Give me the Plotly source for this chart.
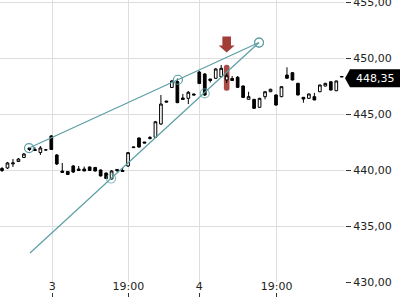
import plotly.graph_objects as go

# ---- data (index-based time axis, prices in EUR) ----
opens  = [440.13, 440.18, 440.54, 440.76, 441.12, 441.97, 441.83, 441.56, 441.79, 443.04,
          441.34, 439.91, 439.87, 440.36, 440.09, 440.09, 440.27, 440.23, 440.00, 439.73,
          439.20, 440.05, 439.96, 440.36, 442.00, 442.86, 442.50, 442.81, 442.92, 444.11,
          446.16, 447.37, 447.90, 446.43, 446.40, 446.79, 448.75, 448.57, 448.13, 448.19,
          448.33, 448.04, 448.17, 448.28, 447.50, 446.31, 446.31, 445.60, 446.55, 446.99,
          446.70, 446.55, 448.48, 448.69, 447.74, 446.49, 446.40, 446.55, 446.99, 447.50,
          447.88, 447.08, 448.30]
highs  = [440.27, 440.72, 440.98, 441.07, 441.52, 442.00, 442.05, 442.14, 441.80, 443.13,
          441.43, 440.63, 439.91, 440.45, 440.36, 440.31, 440.31, 440.27, 440.05, 439.78,
          440.00, 440.05, 440.18, 441.61, 442.08, 442.90, 442.50, 443.04, 444.38, 446.70,
          446.16, 448.04, 448.17, 446.79, 447.05, 446.79, 448.84, 448.66, 448.13, 449.11,
          449.38, 448.75, 448.39, 448.39, 447.55, 446.99, 446.34, 446.45, 447.03, 447.25,
          446.75, 447.48, 449.17, 448.73, 447.78, 446.49, 446.83, 446.88, 447.63, 447.78,
          447.92, 447.99, 448.37]
lows   = [439.82, 440.09, 440.27, 440.72, 441.07, 441.70, 441.74, 441.34, 441.78, 441.79,
          440.45, 439.78, 439.55, 439.73, 439.96, 439.91, 439.93, 439.87, 439.42, 439.20,
          439.15, 439.82, 439.87, 440.27, 441.97, 442.00, 442.41, 442.73, 442.86, 444.02,
          446.07, 447.32, 445.98, 446.30, 445.89, 446.70, 447.68, 446.61, 447.81, 448.13,
          448.28, 447.77, 447.99, 447.32, 446.43, 446.31, 445.47, 445.56, 446.31, 446.96,
          445.76, 446.50, 448.17, 448.00, 446.66, 446.01, 446.36, 446.25, 446.95, 447.46,
          447.10, 447.04, 448.30]
closes = [439.96, 440.63, 440.63, 440.98, 441.43, 441.83, 441.74, 441.97, 441.80, 441.83,
          440.54, 439.78, 439.60, 439.82, 439.96, 439.91, 439.96, 439.91, 439.47, 439.24,
          439.91, 439.96, 439.87, 441.55, 442.05, 442.05, 442.41, 442.90, 444.31, 445.89,
          446.07, 447.95, 446.01, 446.30, 446.94, 446.70, 447.72, 446.70, 447.99, 449.02,
          449.08, 448.42, 447.99, 447.38, 446.48, 446.55, 445.51, 446.40, 446.99, 447.21,
          445.80, 447.44, 448.19, 448.04, 446.70, 446.34, 446.79, 446.25, 447.59, 447.74,
          447.14, 447.95, 448.35]
idx = list(range(len(opens)))

tick_pos = [9.15, 23.05, 36.0, 50.1]
tick_text = ["3", "19:00", "4", "19:00"]

upper_x = [4.93, 32.1, 46.9]
upper_y = [441.96, 448.06, 451.38]
lower_x = [5.11, 19.9, 37.0, 46.9]
lower_y = [432.59, 439.24, 446.85, 451.38]
lower_marker_size = [0, 9, 9, 9]

highlight_idx = 41
y_ticks = [430, 435, 440, 445, 450, 455]
x_range = [-0.365, 62.59]
y_range = [430, 455.18]

TEAL = "#5b9fa5"
RED = "#a23d38"
FONT = "DejaVu Sans"

fig = go.Figure()
fig.add_trace(go.Candlestick(
    x=idx, open=opens, high=highs, low=lows, close=closes,
    increasing=dict(fillcolor="white", line=dict(color="black", width=1)),
    decreasing=dict(fillcolor="black", line=dict(color="black", width=1)),
    hoverinfo="skip", showlegend=False,
))
fig.add_trace(go.Scatter(
    x=upper_x, y=upper_y, mode="lines+markers",
    line=dict(color=TEAL, width=1.2),
    marker=dict(symbol="circle-open", size=9, color=TEAL, line=dict(width=1.2)),
    hoverinfo="skip", showlegend=False,
))
fig.add_trace(go.Scatter(
    x=lower_x, y=lower_y, mode="lines+markers",
    line=dict(color=TEAL, width=1.2),
    marker=dict(symbol="circle-open", size=lower_marker_size, color=TEAL, line=dict(width=1.2)),
    hoverinfo="skip", showlegend=False,
))
# invisible trace to hold the secondary x axis (bottom tick marks)
fig.add_trace(go.Scatter(x=[idx[0]], y=[y_range[0]], xaxis="x2", mode="markers",
                         marker=dict(opacity=0), hoverinfo="skip", showlegend=False))

# highlight on the marked candle
hc = (opens[highlight_idx] + closes[highlight_idx]) / 2
w, h, r = 2.8, 13, 2.5
hl_path = (f"M {-w+r},{h} L {w-r},{h} Q {w},{h} {w},{h-r} L {w},{-h+r} Q {w},{-h} {w-r},{-h} "
           f"L {-w+r},{-h} Q {-w},{-h} {-w},{-h+r} L {-w},{h-r} Q {-w},{h} {-w+r},{h} Z")
fig.add_shape(type="path", xref="x", yref="y", xsizemode="pixel", ysizemode="pixel",
              xanchor=highlight_idx, yanchor=hc, path=hl_path,
              fillcolor=RED, line=dict(width=0), opacity=0.92, layer="below")
arrow_path = "M 0,25.3 L 8,32.3 L 4.3,32.3 L 4.3,41.3 L -4.3,41.3 L -4.3,32.3 L -8,32.3 Z"
fig.add_shape(type="path", xref="x", yref="y", xsizemode="pixel", ysizemode="pixel",
              xanchor=highlight_idx, yanchor=hc, path=arrow_path,
              fillcolor=RED, line=dict(width=0), layer="above")

# last price label
last = closes[-1]
fig.add_shape(type="path", xref="paper", yref="y", xsizemode="pixel", ysizemode="pixel",
              xanchor=1, yanchor=last,
              path="M 0,-1.8 L 5,7.2 L 56,7.2 L 56,-10.8 L 5,-10.8 Z",
              fillcolor="black", line=dict(width=0), layer="above")
fig.add_annotation(x=1, xref="paper", y=last, yref="y", xanchor="center", xshift=30, yshift=-1.8,
                   text=f"{last:.2f}".replace(".", ","), showarrow=False,
                   font=dict(family=FONT, size=11, color="white"))

fig.update_layout(
    width=400, height=300,
    margin=dict(l=0, r=55, t=0, b=0, autoexpand=False),
    paper_bgcolor="white", plot_bgcolor="white",
    separators=",.",
    font=dict(family=FONT, size=11, color="#222"),
    showlegend=False,
    xaxis=dict(range=x_range, tickvals=tick_pos, ticktext=tick_text, showgrid=True,
               gridcolor="#dedede", gridwidth=1, zeroline=False, showline=False, ticks="",
               rangeslider=dict(visible=False), fixedrange=True, ticklabelstandoff=-4,
               automargin=False),
    xaxis2=dict(overlaying="x", anchor="free", position=0.01, range=x_range, tickvals=tick_pos,
                ticks="inside", ticklen=4, tickcolor="#333", showticklabels=False,
                showgrid=False, zeroline=False, showline=False, automargin=False),
    yaxis=dict(range=y_range, domain=[0.06, 1], side="right", tickvals=y_ticks, tickformat=".2f",
               showgrid=True, gridcolor="#dedede", gridwidth=1, zeroline=False, showline=False,
               ticks="outside", ticklen=5, tickcolor="#333", fixedrange=True, automargin=False,
               ticklabeloverflow="allow"),
)

fig.write_html("out.html")
